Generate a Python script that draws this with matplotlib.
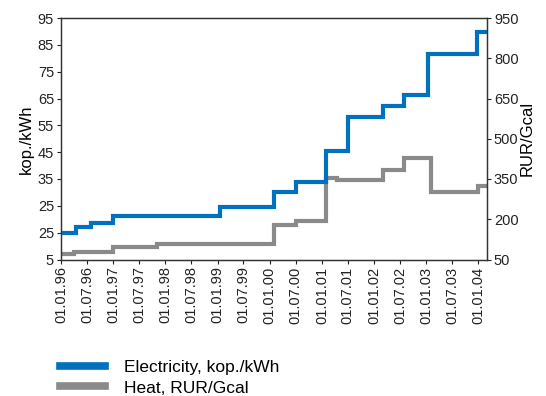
import matplotlib
matplotlib.use("Agg")
import matplotlib.pyplot as plt
import matplotlib.dates as mdates
from matplotlib.lines import Line2D
import pandas as pd

plt.rcParams["font.family"] = ["Liberation Sans", "DejaVu Sans"]

# Tarifas (escalones), fecha de cambio -> nuevo valor
elec_dates = ["1996-01-01", "1996-04-15", "1996-08-01", "1997-01-01", "1999-01-15",
              "2000-02-01", "2000-07-01", "2001-02-01", "2001-07-01", "2002-03-01",
              "2002-08-01", "2003-01-15", "2003-12-20"]
elec_values = [15.0, 17.0, 18.7, 21.2, 24.7, 30.3, 33.8, 45.5, 58.2, 62.3, 66.3, 81.6, 89.9]

heat_dates = ["1996-01-01", "1996-04-01", "1997-01-01", "1997-11-01", "2000-02-01",
              "2000-07-01", "2001-02-01", "2001-04-15", "2002-03-01", "2002-08-01",
              "2003-02-01", "2004-01-01"]
heat_values = [70, 77, 97, 107, 179, 193, 353, 347, 384, 427, 300, 324]

end_date = "2004-03-01"

left_ticks = [5, 15, 25, 35, 45, 55, 65, 75, 85, 95]
left_labels = ["5", "25", "25", "35", "45", "55", "65", "75", "85", "95"]
right_ticks = [50, 200, 350, 500, 650, 800, 950]

blue = "#0071bd"
grey = "#8a8a8a"


def steps(dates, values):
    d = pd.to_datetime(dates + [end_date])
    return d, values + [values[-1]]


fig = plt.figure(figsize=(5.46, 3.96), dpi=100)
ax = fig.add_axes([61 / 546, 1 - 259.5 / 396, 426 / 546, 241.5 / 396])
ax2 = ax.twinx()

x, y = steps(elec_dates, elec_values)
ax.step(x, y, where="post", color=blue, lw=3.0, solid_joinstyle="miter")
x, y = steps(heat_dates, heat_values)
ax2.step(x, y, where="post", color=grey, lw=3.0, solid_joinstyle="miter")

ax.set_zorder(ax2.get_zorder() + 1)
ax.patch.set_visible(False)

ax.set_xlim(pd.Timestamp("1996-01-01"), pd.Timestamp(end_date))
ax.set_ylim(5, 95)
ax2.set_ylim(50, 950)

ax.set_yticks(left_ticks)
ax.set_yticklabels(left_labels)
ax2.set_yticks(right_ticks)

ax.xaxis.set_major_locator(mdates.MonthLocator(bymonth=[1, 7]))
ax.xaxis.set_major_formatter(mdates.DateFormatter("%d.%m.%y"))
for lab in ax.get_xticklabels():
    lab.set_rotation(90)

for a in (ax, ax2):
    a.tick_params(labelsize=10.5, length=3, width=0.8, colors="#222222", pad=2)
    for s in a.spines.values():
        s.set_color("#333333")
        s.set_linewidth(0.9)

ax.set_ylabel("kop./kWh", fontsize=12, labelpad=3)
ax2.set_ylabel("RUR/Gcal", fontsize=12, labelpad=1)

handles = [Line2D([], [], color=blue, lw=5.5), Line2D([], [], color=grey, lw=5.5)]
fig.legend(handles, ["Electricity, kop./kWh", "Heat, RUR/Gcal"],
           loc="upper left", bbox_to_anchor=(60 / 546, 1 - 360 / 396),
           frameon=False, fontsize=12.5, handlelength=2.6, handletextpad=1.1,
           labelspacing=0.3, borderpad=0, borderaxespad=0)

fig.savefig("out.png", dpi=100)
